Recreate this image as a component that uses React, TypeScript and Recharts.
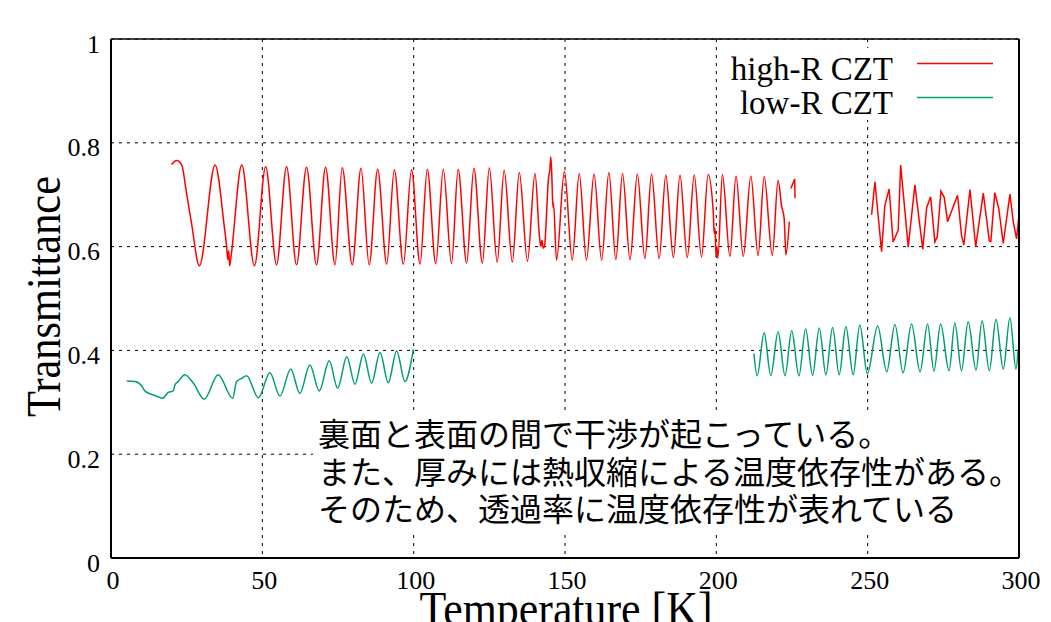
import React from 'react';
import { LineChart, Line, XAxis, YAxis, CartesianGrid, ReferenceLine } from 'recharts';

type Pt = { t: number; v: number };
const pts = (rows: number[][]): Pt[] => rows.map(([t, v]) => ({ t, v }));

// high-R CZT, first run (20 K - 224 K)
const highR1 = pts([
  [20.0, 0.758], [21.7, 0.766], [23.4, 0.757], [24.8, 0.709], [26.6, 0.645], [29.2, 0.563],
  [34.4, 0.757], [37.4, 0.64], [38.2, 0.6], [38.6, 0.575], [38.9, 0.592], [39.2, 0.563], [39.6, 0.578],
  [43.2, 0.757], [47.4, 0.563], [51.1, 0.754], [54.7, 0.565], [58.0, 0.754], [61.3, 0.565],
  [64.6, 0.753], [67.9, 0.565], [70.9, 0.753], [74.0, 0.565], [76.4, 0.752], [79.7, 0.565],
  [82.6, 0.751], [85.3, 0.565], [88.1, 0.749], [91.1, 0.566], [93.6, 0.748], [96.6, 0.566],
  [99.3, 0.748], [102.1, 0.566], [104.5, 0.749], [107.3, 0.567], [109.8, 0.749], [112.5, 0.567],
  [114.7, 0.749], [117.5, 0.568], [119.9, 0.751], [122.7, 0.568], [125.0, 0.752], [127.6, 0.57],
  [129.9, 0.747], [132.6, 0.57], [134.9, 0.743], [137.6, 0.572], [140.1, 0.741],
  [141.6, 0.617], [142.0, 0.6], [142.4, 0.612], [142.8, 0.597], [143.2, 0.6], [144.6, 0.735],
  [145.0, 0.748], [145.3, 0.773], [145.6, 0.745], [145.9, 0.69], [146.1, 0.675], [146.2, 0.684],
  [147.2, 0.574], [149.8, 0.745], [152.4, 0.574], [154.7, 0.741], [157.1, 0.574], [159.6, 0.74],
  [162.1, 0.574], [164.5, 0.743], [166.8, 0.575], [169.0, 0.741], [171.5, 0.575], [173.9, 0.74],
  [176.4, 0.577], [178.6, 0.74], [181.1, 0.577], [183.3, 0.738], [185.8, 0.579], [188.0, 0.738],
  [190.4, 0.579], [192.7, 0.738], [195.1, 0.58], [197.3, 0.739],
  [199.0, 0.665], [199.3, 0.625], [199.6, 0.635], [199.9, 0.58], [200.2, 0.6], [200.5, 0.578],
  [202.0, 0.739], [204.5, 0.581], [206.5, 0.736], [208.9, 0.581], [211.4, 0.736], [213.8, 0.583],
  [215.8, 0.735], [218.5, 0.583], [220.4, 0.728], [221.6, 0.677], [222.4, 0.655], [223.0, 0.584],
  [224.1, 0.648],
]);

// high-R CZT, short piece near 225 K
const highR2 = pts([[224.6, 0.712], [225.9, 0.73], [226.0, 0.693]]);

// high-R CZT, last run (251 K - 300 K)
const highR3 = pts([
  [251.3, 0.661], [252.4, 0.725], [254.6, 0.59], [255.7, 0.68], [257.1, 0.711], [258.4, 0.609],
  [260.1, 0.632], [260.9, 0.757], [263.4, 0.599], [265.6, 0.719], [268.2, 0.595], [269.5, 0.675],
  [270.8, 0.696], [272.2, 0.609], [273.0, 0.619], [274.2, 0.707], [275.3, 0.695], [276.4, 0.648],
  [279.7, 0.699], [281.0, 0.622], [281.8, 0.603], [283.8, 0.71], [285.7, 0.6], [288.2, 0.703],
  [290.2, 0.611], [290.7, 0.61], [292.0, 0.704], [293.3, 0.674], [294.8, 0.606], [297.0, 0.701],
  [298.1, 0.648], [299.2, 0.615], [300.0, 0.66],
]);

// low-R CZT, first run (5 K - 100 K)
const lowR1 = pts([
  [5.2, 0.341], [7.9, 0.34], [10.1, 0.332], [11.2, 0.322], [14.0, 0.314], [17.3, 0.308],
  [17.6, 0.31], [18.9, 0.319], [20.6, 0.322], [21.1, 0.333], [22.2, 0.34], [24.4, 0.353],
  [27.2, 0.337], [30.8, 0.306], [35.4, 0.353], [40.2, 0.308], [41.5, 0.34], [43.2, 0.346],
  [44.8, 0.351], [48.7, 0.309], [52.5, 0.357], [55.8, 0.312], [59.4, 0.364], [62.4, 0.317],
  [65.7, 0.372], [68.8, 0.322], [72.1, 0.38], [74.9, 0.327], [77.9, 0.388], [80.6, 0.335],
  [83.4, 0.393], [86.1, 0.337], [88.9, 0.396], [91.6, 0.338], [94.4, 0.399], [97.1, 0.34],
  [99.9, 0.402],
]);

// low-R CZT, second run (212 K - 300 K)
const lowR2 = pts([
  [212.4, 0.394], [213.5, 0.351], [215.8, 0.434], [218.0, 0.351], [220.4, 0.436], [222.7, 0.351],
  [224.9, 0.438], [227.3, 0.351], [229.5, 0.441], [231.8, 0.352], [234.0, 0.443], [236.2, 0.353],
  [238.4, 0.444], [240.6, 0.353], [242.8, 0.446], [245.2, 0.353], [247.4, 0.449], [249.9, 0.355],
  [253.3, 0.447], [256.3, 0.359], [259.0, 0.45], [261.7, 0.357], [264.5, 0.451], [267.3, 0.359],
  [269.8, 0.451], [271.9, 0.36], [274.1, 0.451], [276.9, 0.361], [278.8, 0.453], [281.0, 0.361],
  [283.2, 0.455], [285.8, 0.362], [287.8, 0.457], [290.2, 0.361], [292.4, 0.46], [294.8, 0.364],
  [297.0, 0.463], [299.0, 0.364], [299.7, 0.401],
]);

const xTicks = [0, 50, 100, 150, 200, 250, 300];
const yTicks = [0, 0.2, 0.4, 0.6, 0.8, 1];

const legendItems = [
  { name: 'high-R CZT', color: '#ff0000' },
  { name: 'low-R CZT', color: '#009e73' },
];

const noteLines = [
  '裏面と表面の間で干渉が起こっている。',
  'また、厚みには熱収縮による温度依存性がある。',
  'そのため、透過率に温度依存性が表れている',
];

const serif = "'Liberation Serif', 'Times New Roman', serif";

const XTick = ({ x, y, payload }: any) => (
  <text x={x + 2} y={y} dy={31} textAnchor="middle" fontSize={26} fill="#000"
    style={{ fontFamily: serif }}>
    {payload.value}
  </text>
);

const YTick = ({ x, y, payload }: any) => (
  <text x={x - 11} y={y} dy={13.5} textAnchor="end" fontSize={26} fill="#000"
    style={{ fontFamily: serif }}>
    {payload.value}
  </text>
);

const XLabel = ({ viewBox }: any) => {
  const vb = viewBox || { x: 111, y: 558, width: 908 };
  return (
    <text x={vb.x + vb.width / 2 + 1} y={vb.y + 67} textAnchor="middle" fontSize={48}
      textLength={293} lengthAdjust="spacingAndGlyphs" fill="#000" style={{ fontFamily: serif }}>
      Temperature [K]
    </text>
  );
};

const YLabel = ({ viewBox }: any) => {
  const vb = viewBox || { y: 39, height: 519 };
  const cy = vb.y + vb.height / 2 - 2;
  return (
    <text x={60} y={cy} transform={`rotate(-90, 60, ${cy})`} textAnchor="middle" fontSize={48}
      textLength={241} lengthAdjust="spacingAndGlyphs" fill="#000" style={{ fontFamily: serif }}>
      Transmittance
    </text>
  );
};

export default function App() {
  const line = (data: Pt[], color: string, key: string, curve: 'monotone' | 'linear') => (
    <Line key={key} data={data} dataKey="v" type={curve} stroke={color} strokeWidth={1.5}
      dot={false} activeDot={false} isAnimationActive={false} />
  );

  return (
    <div style={{ position: 'absolute', left: 0, top: 0, width: 1051, height: 622, background: '#fff', overflow: 'hidden' }}>
      <LineChart width={1051} height={622} margin={{ top: 39, right: 32, bottom: 0, left: 0 }}>
        <CartesianGrid stroke="#000" strokeDasharray="3 5" strokeWidth={1} />
        <XAxis dataKey="t" type="number" domain={[0, 300]} ticks={xTicks} allowDataOverflow
          height={64} tickSize={0} tickMargin={0} tickLine={false}
          axisLine={{ stroke: '#000', strokeWidth: 2 }} tick={<XTick />} label={<XLabel />} />
        <YAxis type="number" domain={[0, 1]} ticks={yTicks} allowDataOverflow
          width={111} tickSize={0} tickMargin={0} tickLine={false}
          axisLine={{ stroke: '#000', strokeWidth: 2 }} tick={<YTick />} label={<YLabel />} />
        {line(highR1, legendItems[0].color, 'h1', 'monotone')}
        {line(highR2, legendItems[0].color, 'h2', 'linear')}
        {line(highR3, legendItems[0].color, 'h3', 'linear')}
        {line(lowR1, legendItems[1].color, 'l1', 'monotone')}
        {line(lowR2, legendItems[1].color, 'l2', 'monotone')}
        <ReferenceLine x={300} stroke="#000" strokeWidth={2} />
        <ReferenceLine y={1} stroke="#000" strokeWidth={1.5} />
      </LineChart>
      <svg width={1051} height={622} style={{ position: 'absolute', left: 0, top: 0, pointerEvents: 'none' }}>
        <rect x={724} y={48} width={280} height={72} fill="#fff" />
        {legendItems.map((it, i) => (
          <g key={it.name}>
            <text x={893} y={80 + i * 33.5} textAnchor="end" fontSize={33} fill="#000"
              style={{ fontFamily: serif }}>
              {it.name}
            </text>
            <line x1={917} x2={993} y1={63.5 + i * 34} y2={63.5 + i * 34} stroke={it.color} strokeWidth={1.6} />
          </g>
        ))}
        <rect x={313} y={413} width={705} height={120} fill="#fff" />
        {noteLines.map((s, i) => (
          <text key={i} x={318} y={446 + i * 37.5} fontSize={32} fill="#000"
            style={{ fontFamily: "'Noto Sans CJK JP', sans-serif" }}>
            {s}
          </text>
        ))}
      </svg>
    </div>
  );
}
